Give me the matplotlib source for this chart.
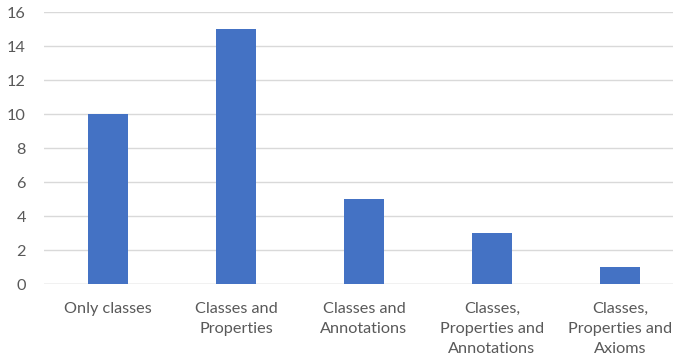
import matplotlib.pyplot as plt
import numpy as np

categories = ["Only classes", "Classes and\nProperties", "Classes and\nAnnotations",
              "Classes,\nProperties and\nAnnotations", "Classes,\nProperties and\nAxioms"]
counts = [10, 15, 5, 3, 1]
yticks = [0, 2, 4, 6, 8, 10, 12, 14, 16]

plt.rcParams['font.family'] = ['Lato', 'DejaVu Sans']

fig = plt.figure(figsize=(6.73, 3.63), dpi=100)
ax = fig.add_axes([44 / 673, 79 / 363, 629 / 673, 272 / 363])

x = np.arange(len(categories))
ax.bar(x, counts, width=0.31, color="#4472C4", zorder=3)

ax.set_ylim(0, 16)
ax.set_xlim(-0.5, 4.414)
ax.set_yticks(yticks)
ax.set_xticks(x)
ax.set_xticklabels(categories, linespacing=1.55)
ax.yaxis.grid(True, color="#D9D9D9", linewidth=1, zorder=0)
ax.tick_params(axis="both", length=0, labelsize=11.7, colors="#595959")
ax.tick_params(axis="x", pad=13)
ax.tick_params(axis="y", pad=13)
for s in ax.spines.values():
    s.set_visible(False)
ax.axhline(0, color="#D9D9D9", linewidth=1, zorder=1)

fig.savefig("out.png", dpi=100)
